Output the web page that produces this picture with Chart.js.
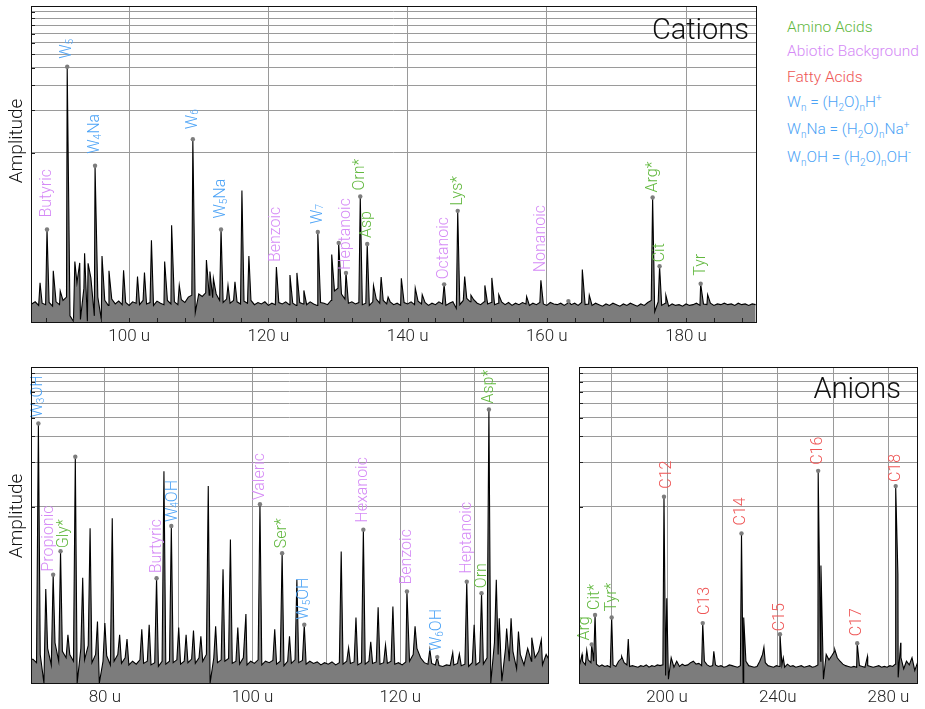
<!DOCTYPE html>
<html>
<head>
<meta charset="utf-8">
<script src="https://cdn.jsdelivr.net/npm/chart.js@4.4.1/dist/chart.umd.min.js"></script>
<style>
  html, body { margin: 0; background: #fff; }
  #page { position: relative; width: 925px; height: 709px; overflow: hidden; font-family: Roboto, "Liberation Sans", Arial, sans-serif; font-weight: 300; }
  .panel { position: absolute; }
  .panel canvas { display: block; }
  .key { position: absolute; left: 787px; font-size: 15.5px; line-height: 18px; white-space: nowrap; }
  .key sub, .key sup { font-size: 10px; line-height: 0; }
</style>
</head>
<body>
<div id="page">
  <div class="panel" style="left:0;top:0"><canvas id="cations" width="760" height="350"></canvas></div>
  <div class="panel" style="left:0;top:355px"><canvas id="anionsLo" width="560" height="354"></canvas></div>
  <div class="panel" style="left:570px;top:355px"><canvas id="anionsHi" width="355" height="354"></canvas></div>

  <div class="key" style="top:18px;color:#62b83f">Amino Acids</div>
  <div class="key" style="top:42px;color:#d58af6">Abiotic Background</div>
  <div class="key" style="top:68px;color:#ee5555">Fatty Acids</div>
  <div class="key" style="top:93px;color:#4ca3f6">W<sub>n</sub> = (H<sub>2</sub>O)<sub>n</sub>H<sup>+</sup></div>
  <div class="key" style="top:120px;color:#4ca3f6">W<sub>n</sub>Na = (H<sub>2</sub>O)<sub>n</sub>Na<sup>+</sup></div>
  <div class="key" style="top:148px;color:#4ca3f6">W<sub>n</sub>OH = (H<sub>2</sub>O)<sub>n</sub>OH<sup>-</sup></div>
</div>
<script>
(function () {
  'use strict';

  // ---- Cation spectrum (m/z 86-190) ----
  // baseline samples from 86 u every 0.5 u
  var cationNoise = [
    .085, .088, .083, .086, .084, .087, .082, .088, .084, .09,
    .095, .07, .064, .12, .066, .11, .064, .13, .07, .095,
    .066, .09, .083, .092, .085, .089, .084, .087, .083, .088,
    .086, .084, .09, .085, .087, .083, .089, .086, .084, .09,
    .085, .088, .084, .091, .087, .095, .098, .074, .1, .096,
    .102, .098, .094, .1, .09, .087, .092, .086, .09, .088,
    .085, .089, .086, .09, .084, .087, .085, .088, .083, .086,
    .084, .087, .085, .088, .084, .086, .083, .087, .085, .084,
    .088, .085, .083, .087, .086, .084, .09, .105, .11, .1,
    .092, .086, .088, .085, .087, .084, .086, .083, .088, .092,
    .086, .09, .085, .088, .084, .086, .083, .087, .085, .088,
    .084, .089, .085, .087, .083, .086, .084, .088, .085, .083,
    .086, .088, .079, .084, .09, .093, .088, .091, .086, .084,
    .088, .085, .087, .084, .086, .088, .084, .087, .083, .086,
    .084, .087, .085, .083, .086, .084, .087, .085, .083, .087,
    .085, .084, .086, .083, .086, .084, .086, .083, .087, .084,
    .085, .083, .086, .084, .082, .085, .083, .086, .084, .082,
    .085, .083, .086, .084, .082, .085, .083, .087, .09, .075,
    .088, .083, .086, .082, .085, .083, .084, .082, .085, .083,
    .084, .086, .083, .085, .084, .086, .083, .085, .084, .086,
    .084, .085, .083, .086, .084, .085, .083, .085, .084
  ];
  var cationPeaks = [
    [87.2, .12], [89.1, .146], [90.1, .105], [92.2, .17], [92.9, .166], [93.6, .194], [94.1, .165],
    [96.1, .186], [97.1, .146], [99.2, .147], [101.2, .133], [102.2, .142], [103.2, .24], [105.1, .17],
    [106.1, .307], [107.2, .115], [111.1, .174], [111.6, .144], [112.1, .129], [114.2, .115], [115.2, .122],
    [116.2, .54], [117.2, .186], [123.1, .136], [124.1, .141], [125.1, .106], [129.1, .19], [135.1, .115],
    [136.2, .132], [137.2, .095], [139.1, .129], [141.1, .11], [142.1, .099], [148.2, .133], [149.1, .098],
    [151.1, .115], [152.1, .13], [153.1, .099], [157.1, .096], [165.1, .149], [166.1, .098], [177.1, .098],
    [183.1, .099]
  ];
  // [text, m/z, amplitude, class, dot]
  var cationLabels = [
    ['Butyric', 88.2, .286, 'abio'],
    ['W_5', 91.1, 4.07, 'water'],
    ['W_4Na', 95.1, .81, 'water'],
    ['W_6', 109.15, 1.25, 'water'],
    ['W_5Na', 113.2, .286, 'water'],
    ['Benzoic', 121.15, .155, 'abio', false],
    ['W_7', 127.1, .275, 'water'],
    ['', 130.1, .23, ''],
    ['Heptanoic', 131.15, .141, 'abio'],
    ['Orn*', 133.2, .49, 'amino'],
    ['Asp', 134.2, .226, 'amino'],
    ['Octanoic', 145.25, .117, 'abio'],
    ['Lys*', 147.2, .388, 'amino'],
    ['Nonanoic', 159.15, .125, 'abio', false],
    ['', 163.1, .089, ''],
    ['Arg*', 175.2, .483, 'amino'],
    ['Cit', 176.2, .157, 'amino'],
    ['Tyr', 182.1, .118, 'amino']
  ];
  var cationGridX = [100, 120, 140, 160, 180];
  var cationTickValues = [100, 120, 140, 160, 180];
  var cationTickText = ['100 u', '120 u', '140 u', '160 u', '180 u'];
  var cationGridY = [1, 2, 3, 4, 5, 6, 7, 8, 9, 10];

  // ---- Anion spectrum, low mass (m/z 70-140) ----
  // baseline samples from 69.75 u every 0.5 u
  var anionLoNoise = [
    .09, .093, .088, .1, .064, .11, .085, .12, .09, .105,
    .095, .1, .09, .064, .11, .092, .115, .088, .1, .064,
    .09, .098, .085, .09, .1, .087, .095, .085, .09, .086,
    .092, .087, .09, .085, .088, .083, .09, .086, .09, .088,
    .092, .086, .09, .088, .093, .087, .095, .09, .1, .064,
    .095, .088, .092, .09, .094, .087, .09, .086, .095, .085,
    .09, .087, .092, .085, .09, .088, .091, .086, .09, .084,
    .09, .087, .092, .088, .091, .086, .09, .087, .089, .085,
    .088, .086, .089, .085, .088, .086, .09, .087, .089, .085,
    .088, .086, .09, .087, .089, .086, .088, .087, .09, .086,
    .088, .085, .089, .09, .1, .11, .095, .088, .086, .087,
    .085, .084, .083, .085, .084, .085, .087, .084, .086, .083,
    .088, .085, .089, .086, .095, .064, .12, .1, .066, .11,
    .09, .105, .08, .1, .085, .11, .09, .095, .105, .085,
    .1, .09
  ];
  var anionLoPeaks = [
    [72, .277], [75, .136], [77, .33], [78, .714], [79, .167], [80, .163], [81, .835], [82, .136],
    [83, .127], [85, .148], [86, .159], [88, 1.74], [90, .152], [91, .136], [92, .145], [93, .133],
    [94, 1.38], [95, .155], [96, .377], [97, .6], [98, .152], [99.1, .188], [103, .148], [105, .133],
    [106, .32], [112, .497], [113, .111], [114, .178], [116, .122], [117, .209], [118, .116], [119, .211],
    [122, .155], [124, .108], [127.1, .103], [128, .101], [130, .159], [133, .32], [133.4, .176],
    [134.4, .15], [135, .176], [136, .143], [137.8, .13], [139.1, .126]
  ];
  var anionLoLabels = [
    ['W_3OH', 71, 3.66, 'water'],
    ['Propionic', 73, .347, 'abio'],
    ['Gly*', 74, .5, 'amino'],
    ['', 76, 2.18, ''],
    ['Burtyric', 87, .328, 'abio'],
    ['W_4OH', 89, .74, 'water'],
    ['Valeric', 101, 1.04, 'abio'],
    ['Ser*', 104, .485, 'amino'],
    ['W_5OH', 107, .159, 'water'],
    ['Hexanoic', 115, .7, 'abio'],
    ['Benzoic', 120.9, .267, 'abio'],
    ['W_6OH', 125, .096, 'water'],
    ['Heptanoic', 129, .311, 'abio'],
    ['Orn', 131, .26, 'amino'],
    ['Asp*', 132, 4.55, 'amino']
  ];
  var anionLoGridX = [80, 90, 100, 110, 120, 130];
  var anionLoTickValues = [80, 100, 120];
  var anionLoTickText = ['80 u', '100 u', '120 u'];

  // ---- Anion spectrum, high mass (m/z 168-290) ----
  // baseline samples from 167.5 u every 1 u
  var anionHiNoise = [
    .084, .086, .09, .085, .092, .088, .09, .086, .083, .085,
    .083, .084, .082, .085, .083, .09, .094, .088, .085, .083,
    .084, .083, .082, .084, .083, .085, .082, .084, .083, .085,
    .084, .085, .072, .068, .095, .082, .09, .083, .086, .084,
    .085, .088, .09, .086, .087, .084, .09, .085, .083, .084,
    .085, .083, .084, .082, .083, .085, .084, .083, .082, .084,
    .064, .09, .084, .083, .082, .083, .09, .1, .088, .084,
    .083, .082, .084, .083, .085, .082, .086, .083, .084, .082,
    .083, .084, .082, .083, .084, .082, .083, .085, .09, .068,
    .1, .092, .098, .105, .095, .09, .086, .084, .083, .082,
    .083, .082, .084, .083, .082, .084, .083, .082, .083, .084,
    .082, .083, .082, .084, .083, .086, .07, .095, .08, .09,
    .085, .095, .078, .088
  ];
  var anionHiPeaks = [
    [169.3, .1], [171, .107], [183.6, .097], [186, .127], [199.9, .24], [216.9, .105], [227.7, .178],
    [235, .112], [242, .095], [255.6, .4], [260.6, .108], [272.4, .097], [283.4, .35], [284.4, .12]
  ];
  var anionHiLabels = [
    ['Arg', 172.8, .117, 'amino'],
    ['Cit*', 174, .185, 'amino'],
    ['Tyr*', 180, .178, 'amino'],
    ['C12', 198.9, 1.17, 'fatty'],
    ['C13', 212.9, .163, 'fatty'],
    ['C14', 226.9, .66, 'fatty'],
    ['C15', 240.8, .137, 'fatty'],
    ['C16', 254.6, 1.75, 'fatty'],
    ['C17', 268.7, .119, 'fatty'],
    ['C18', 282.6, 1.38, 'fatty']
  ];
  var anionHiGridX = [180, 200, 220, 240, 260, 280];
  var anionHiTickValues = [200, 240, 280];
  var anionHiTickText = ['200 u', '240u', '280 u'];
  var anionGridY = [1, 2, 3, 4, 5, 6, 7, 8];

  var FONT = 'Roboto, "Liberation Sans", Arial, sans-serif';
  var GRID = '#9a9a9a';
  var KIND = { amino: '#62b83f', abio: '#d58af6', fatty: '#ee5555', water: '#4ca3f6' };

  function buildTrace(start, step, noise, peaks, labels) {
    var pts = noise.map(function (v, i) { return { x: start + i * step, y: v }; });
    peaks.forEach(function (p) { pts.push({ x: p[0], y: p[1] }); });
    labels.forEach(function (l) { pts.push({ x: l[1], y: l[2] }); });
    pts.sort(function (a, b) { return a.x - b.x; });
    return pts;
  }

  // rotated peak name, "_d" marks a subscript digit
  function drawName(ctx, text) {
    var parts = text.split(/_(\d)/), x = 0;
    parts.forEach(function (s, i) {
      var sub = i % 2 === 1;
      ctx.font = '300 ' + (sub ? 10 : 16) + 'px ' + FONT;
      ctx.fillText(s, x, sub ? 3 : 0);
      x += ctx.measureText(s).width;
    });
  }

  function decor(p) {
    return {
      id: 'decor',
      afterDatasetsDraw: function (chart) {
        var ctx = chart.ctx, xs = chart.scales.x, ys = chart.scales.y;
        ctx.save();
        ctx.textAlign = 'left';
        ctx.textBaseline = 'middle';
        p.labels.forEach(function (l) {
          if (!l[0]) return;
          var n = p.nudge[l[0]] || [0, p.gap];
          ctx.save();
          ctx.fillStyle = KIND[l[3]];
          ctx.translate(xs.getPixelForValue(l[1]) + n[0], ys.getPixelForValue(l[2]) - n[1]);
          ctx.rotate(-Math.PI / 2);
          drawName(ctx, l[0]);
          ctx.restore();
        });
        ctx.restore();
      },
      afterDraw: function (chart) {
        var ctx = chart.ctx, a = chart.chartArea, xs = chart.scales.x, ys = chart.scales.y;
        ctx.save();
        ctx.strokeStyle = '#222';
        ctx.lineWidth = 1;
        ctx.beginPath();
        // inward ticks on the left edge
        p.yGrid.forEach(function (v) {
          var y = Math.round(ys.getPixelForValue(v)) + 0.5;
          ctx.moveTo(a.left, y); ctx.lineTo(a.left + 4, y);
        });
        // minor ticks along the mass axis
        if (p.minorStep) {
          for (var u = p.minorFrom; u < xs.max; u += p.minorStep) {
            var x = Math.round(xs.getPixelForValue(u)) + 0.5;
            ctx.moveTo(x, a.bottom); ctx.lineTo(x, a.bottom - 4);
          }
        }
        ctx.stroke();
        ctx.strokeStyle = '#111';
        ctx.strokeRect(Math.round(a.left) + 0.5, Math.round(a.top) + 0.5,
          Math.round(a.right - a.left), Math.round(a.bottom - a.top));

        ctx.fillStyle = '#111';
        if (p.title) {
          ctx.font = '300 29px ' + FONT;
          ctx.textAlign = 'right';
          ctx.textBaseline = 'alphabetic';
          ctx.fillText(p.title, a.right - p.titleDx, a.top + p.titleDy);
        }
        if (p.yTitleY) {
          ctx.translate(17, p.yTitleY);
          ctx.rotate(-Math.PI / 2);
          ctx.font = '300 19px ' + FONT;
          ctx.textAlign = 'center';
          ctx.textBaseline = 'middle';
          ctx.fillText('Amplitude', 0, 0);
        }
        ctx.restore();
      }
    };
  }

  function spectrum(p) {
    var trace = buildTrace(p.noiseStart, p.noiseStep, p.noise, p.peaks, p.labels);
    var dots = p.labels.filter(function (l) { return l[4] !== false; })
      .map(function (l) { return { x: l[1], y: l[2] }; });
    new Chart(document.getElementById(p.id), {
      type: 'line',
      data: {
        datasets: [
          { data: dots, showLine: false, pointRadius: 2.2, pointBackgroundColor: '#7d7d7d',
            pointBorderWidth: 0, order: 0 },
          { data: trace, borderColor: '#000', borderWidth: 1.1, backgroundColor: '#7c7c7c',
            fill: 'start', pointRadius: 0, tension: 0, order: 1 }
        ]
      },
      options: {
        responsive: false, animation: false, events: [], devicePixelRatio: 1,
        layout: { padding: p.pad },
        plugins: { legend: { display: false }, tooltip: { enabled: false } },
        scales: {
          x: {
            type: 'linear', min: p.xMin, max: p.xMax,
            afterBuildTicks: function (s) { s.ticks = p.gridX.map(function (v) { return { value: v }; }); },
            afterFit: function (s) { s.height = p.axisH; },
            grid: { color: GRID, drawTicks: false },
            border: { display: false },
            ticks: {
              padding: 5, color: '#222', font: { family: FONT, size: 17, weight: '300' }, maxRotation: 0, autoSkip: false,
              callback: function (v) { var i = p.tickValues.indexOf(v); return i < 0 ? '' : p.tickText[i]; }
            }
          },
          y: {
            type: 'logarithmic', min: p.yMin, max: p.yMax,
            afterBuildTicks: function (s) { s.ticks = p.yGrid.map(function (v) { return { value: v }; }); },
            afterFit: function (s) { s.width = 0; },
            grid: { color: GRID, drawTicks: false },
            border: { display: false },
            ticks: { display: false }
          }
        }
      },
      plugins: [decor(p)]
    });
  }

  spectrum({
    id: 'cations', noise: cationNoise, noiseStart: 86, noiseStep: 0.5, peaks: cationPeaks, labels: cationLabels,
    xMin: 85.9, xMax: 190.05, gridX: cationGridX, tickValues: cationTickValues, tickText: cationTickText,
    yMin: 0.0633, yMax: 10.97, yGrid: cationGridY,
    pad: { left: 31, top: 6, right: 4, bottom: 0 }, axisH: 28, minorFrom: 88, minorStep: 4,
    gap: 8, nudge: { 'Butyric': [0, 12], 'W_4Na': [0, 12], 'W_6': [0, 10], 'W_5Na': [0, 11], 'Benzoic': [0, 5],
      'Heptanoic': [0, 3], 'Orn*': [0, 6], 'Asp': [0, 6], 'Octanoic': [0, 5], 'Lys*': [0, 5], 'Arg*': [0, 5], 'Cit': [0, 4] },
    title: 'Cations', titleDx: 7, titleDy: 33, yTitleY: 141
  });

  spectrum({
    id: 'anionsLo', noise: anionLoNoise, noiseStart: 69.75, noiseStep: 0.5, peaks: anionLoPeaks, labels: anionLoLabels,
    xMin: 70, xMax: 140, gridX: anionLoGridX, tickValues: anionLoTickValues, tickText: anionLoTickText,
    yMin: 0.0641, yMax: 8.83, yGrid: anionGridY,
    pad: { left: 31, top: 12, right: 12, bottom: 0 }, axisH: 26,
    gap: 5, nudge: { 'W_3OH': [0, 6], 'Propionic': [-4.5, 3], 'Gly*': [3.3, 3], 'W_4OH': [1.3, 4], 'Valeric': [0, 4],
      'Hexanoic': [0, 7], 'Benzoic': [0, 7], 'W_6OH': [0, 6], 'Heptanoic': [0.6, 8], 'Asp*': [0, 6] },
    yTitleY: 161
  });

  spectrum({
    id: 'anionsHi', noise: anionHiNoise, noiseStart: 167.5, noiseStep: 1, peaks: anionHiPeaks, labels: anionHiLabels,
    xMin: 168.2, xMax: 290.3, gridX: anionHiGridX, tickValues: anionHiTickValues, tickText: anionHiTickText,
    yMin: 0.0641, yMax: 8.83, yGrid: anionGridY,
    pad: { left: 9, top: 12, right: 8, bottom: 0 }, axisH: 26,
    gap: 5, nudge: { 'Arg': [-6.7, 4], 'Tyr*': [0, 6], 'C12': [2.7, 8], 'C13': [2.3, 8], 'C14': [0, 8], 'C15': [0, 3],
      'C16': [0, 6], 'C17': [0, 7], 'C18': [0, 4] },
    title: 'Anions', titleDx: 16, titleDy: 31
  });
})();
</script>
</body>
</html>
